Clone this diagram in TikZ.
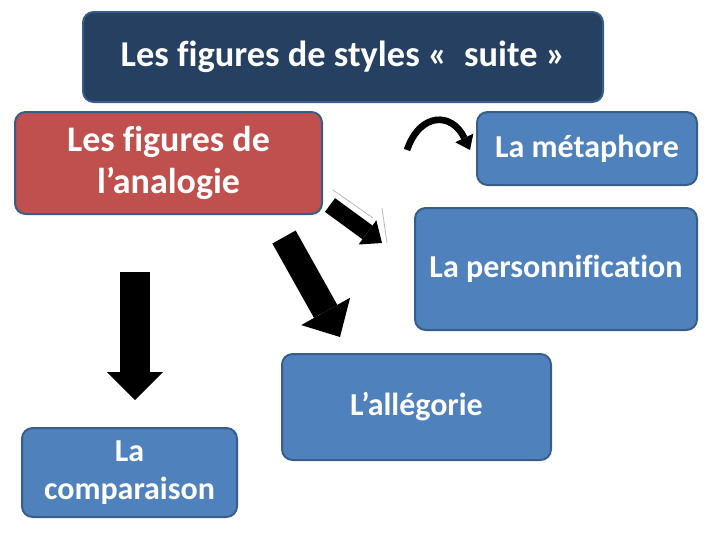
\documentclass[tikz,border=0pt]{standalone}
\usepackage{fontspec}
\setmainfont[Ligatures=NoCommon]{Carlito}
\usepackage{tikz}
\usepackage{xcolor}
\usetikzlibrary{arrows.meta, positioning, calc}

\definecolor{navyfill}{HTML}{254061}
\definecolor{navyline}{HTML}{385D8A}
\definecolor{redfill}{HTML}{C0504D}
\definecolor{bluefill}{HTML}{4F81BD}

\begin{document}
\begin{tikzpicture}[x=0.75pt, y=-0.75pt,
    box/.style={draw=navyline, line width=1.5pt, rounded corners=8pt, text=white, align=center, inner sep=0pt, font=\bfseries},
    titlebox/.style={box, fill=navyfill, font=\bfseries\fontsize{27.3}{32}\selectfont},
    redbox/.style={box, fill=redfill, font=\bfseries\fontsize{27}{32}\selectfont},
    bluebox/.style={box, fill=bluefill, font=\bfseries\fontsize{24}{28}\selectfont},
    blockarrow/.style={line width=#1, black}]
    \useasboundingbox (0, 0) rectangle (720, 540);

    \node[titlebox, minimum width=390pt, minimum height=67.5pt] (titre) at (343, 57) {Les figures de styles «~ suite »};
    \node[redbox, minimum width=230.25pt, minimum height=76.5pt] (analogie) at (168.5, 163) {Les figures de\\l’analogie};
    \node[bluebox, minimum width=165pt, minimum height=54.75pt] (metaphore) at (587, 148.5) {La métaphore};
    \node[bluebox, minimum width=211.5pt, minimum height=91.5pt] (personnif) at (556, 269) {La personnification};
    \node[bluebox, minimum width=201.75pt, minimum height=79.5pt] (allegorie) at (416.5, 407) {L’allégorie};
    \node[bluebox, minimum width=161.25pt, minimum height=66.75pt] (comparaison) at (129.5, 472.5) {La\\comparaison};

    % arrow ends
    \coordinate (courbeA) at (407, 150);
    \coordinate (courbeB) at (470, 150);
    \coordinate (petiteA) at (330, 205);
    \coordinate (petiteB) at (382, 243);
    \coordinate (grandeA) at (284, 237);
    \coordinate (grandeB) at (340, 337);
    \coordinate (basA) at (135, 272);
    \coordinate (basB) at (135, 400);

    \draw[gray!55, line width=0.6pt] (333, 190) -- (373, 218);
    \draw[gray!55, line width=0.6pt] (382, 208) -- (387, 243);

    \draw[line width=5pt, -{Triangle[length=10pt, width=15pt, line width=0pt]}] (courbeA) .. controls (420, 112) and (452, 112) .. (courbeB);
    \draw[blockarrow=12.75pt, -{Triangle[length=13.5pt, width=22.5pt, line width=0pt]}] (petiteA) -- (petiteB);
    \draw[blockarrow=20pt, -{Triangle[length=22pt, width=42pt, line width=0pt]}] (grandeA) -- (grandeB);
    \draw[blockarrow=22.5pt, -{Triangle[length=21pt, width=42pt, line width=0pt]}] (basA) -- (basB);
\end{tikzpicture}
\end{document}
